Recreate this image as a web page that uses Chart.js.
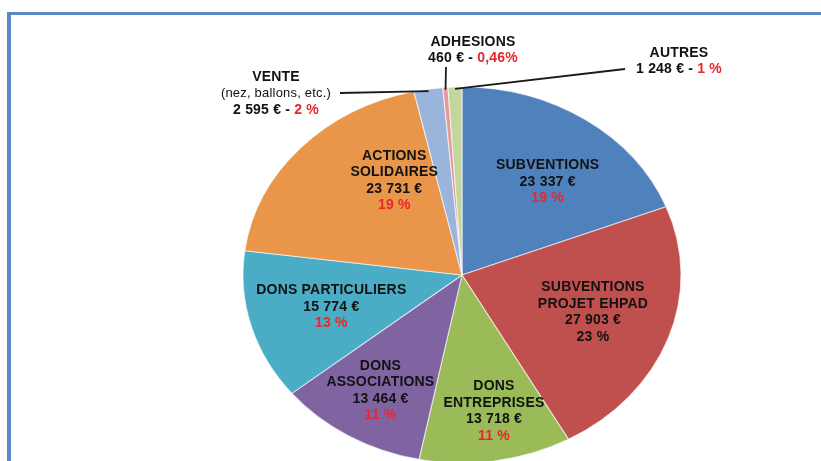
<!DOCTYPE html>
<html>
<head>
<meta charset="utf-8">
<script src="https://cdn.jsdelivr.net/npm/chart.js@4.4.1/dist/chart.umd.min.js"></script>
<style>
    html, body { margin: 0; padding: 0; background: #fff; }
    #wrap { position: relative; width: 821px; height: 461px; overflow: hidden; background: #fff; }
    #frame { position: absolute; left: 7px; top: 12px; right: -10px; bottom: -10px;
             border-top: 3px solid #5b89c3; border-left: 4px solid #5b89c3; }
    #chartRessources { position: absolute; left: 0; top: 0; }
</style>
</head>
<body>
<div id="wrap">
    <div id="frame"></div>
    <canvas id="chartRessources" width="821" height="461"></canvas>
</div>
<script>
'use strict';

// ─────────────────────────────────────────────────────────────────────────────
// DONNÉES — répartition des ressources
// ─────────────────────────────────────────────────────────────────────────────

var categories = [
    ['SUBVENTIONS'],
    ['SUBVENTIONS', 'PROJET EHPAD'],
    ['DONS', 'ENTREPRISES'],
    ['DONS', 'ASSOCIATIONS'],
    ['DONS PARTICULIERS'],
    ['ACTIONS', 'SOLIDAIRES'],
    ['VENTE'],
    ['ADHESIONS'],
    ['AUTRES']
];
var notes = ['', '', '', '', '', '', '(nez, ballons, etc.)', '', ''];
var montants = [23337, 27903, 13718, 13464, 15774, 23731, 2595, 460, 1248];
var pourcentages = ['19 %', '23 %', '11 %', '11 %', '13 %', '19 %', '2 %', '0,46%', '1 %'];

// ─────────────────────────────────────────────────────────────────────────────
// STYLES
// ─────────────────────────────────────────────────────────────────────────────

var COULEURS = ['#4f81bd', '#c0504d', '#9bbb59', '#8064a2', '#4bacc6',
                '#e9964b', '#9ab5dc', '#e39a98', '#c3d69b'];
var ROUGE = '#e8262c';
var NOIR = '#121212';
var couleurPct = [ROUGE, NOIR, ROUGE, ROUGE, ROUGE, ROUGE, ROUGE, ROUGE, ROUGE];

var RAYON = 188;          // rayon vertical
var ETIREMENT = 219 / 188; // la part est étirée en largeur
var INTERLIGNE = 16.5;

// étiquettes internes : distance relative au centre et décalage angulaire (deg)
var posInterne = [
    { r: 0.63, da: 4 },
    { r: 0.63, da: -1.5 },
    { r: 0.74, da: -2.5 },
    { r: 0.72, da: 0 },
    { r: 0.62, da: 0 },
    { r: 0.59, da: 16 }
];
// étiquettes externes : centre du texte, 1re ligne, départ du trait
var posExterne = {
    6: { x: 276, y: 77, trait: [340, 93] },
    7: { x: 473, y: 42, trait: [446, 67] },
    8: { x: 679, y: 53, trait: [625, 69] }
};

function formatEuro(v) {
    return String(v).replace(/\B(?=(\d{3})+(?!\d))/g, ' ') + ' €';
}

function policeGras() { return 'bold 14px "Liberation Sans", Arial, sans-serif'; }
function policeNormale() { return '13px "Liberation Sans", Arial, sans-serif'; }

function ecrireMorceaux(ctx, morceaux, cx, y) {
    var total = 0;
    morceaux.forEach(function(m) {
        ctx.font = m.font;
        total += ctx.measureText(m.text).width;
    });
    var x = cx - total / 2;
    morceaux.forEach(function(m) {
        ctx.font = m.font;
        ctx.fillStyle = m.color;
        ctx.fillText(m.text, x, y);
        x += ctx.measureText(m.text).width;
    });
}

// point sur l'ellipse à l'angle a (radians, repère Chart.js)
function pointEllipse(arc, a, f) {
    return {
        x: arc.x + Math.cos(a) * f * RAYON * ETIREMENT,
        y: arc.y + Math.sin(a) * f * RAYON
    };
}

var ellipsePlugin = {
    id: 'ellipse',
    beforeDatasetsDraw: function(chart) {
        var arc = chart.getDatasetMeta(0).data[0];
        var ctx = chart.ctx;
        ctx.save();
        ctx.translate(arc.x, arc.y);
        ctx.scale(ETIREMENT, 1);
        ctx.translate(-arc.x, -arc.y);
    },
    afterDatasetsDraw: function(chart) {
        chart.ctx.restore();
    }
};

var etiquettesPlugin = {
    id: 'etiquettes',
    afterDraw: function(chart) {
        var ctx = chart.ctx;
        var arcs = chart.getDatasetMeta(0).data;
        ctx.save();
        ctx.textBaseline = 'middle';
        ctx.textAlign = 'left';
        ctx.letterSpacing = '0.2px';

        arcs.forEach(function(arc, i) {
            var mid = (arc.startAngle + arc.endAngle) / 2;
            var pct = { text: pourcentages[i], font: policeGras(), color: couleurPct[i] };
            var lignes = [];

            if (posInterne[i]) {
                var p = posInterne[i];
                var pt = pointEllipse(arc, mid + p.da * Math.PI / 180, p.r);
                categories[i].forEach(function(t) {
                    lignes.push([{ text: t, font: policeGras(), color: NOIR }]);
                });
                lignes.push([{ text: formatEuro(montants[i]), font: policeGras(), color: NOIR }]);
                lignes.push([pct]);
                var y0 = pt.y - (lignes.length - 1) * INTERLIGNE / 2;
                lignes.forEach(function(l, k) {
                    ecrireMorceaux(ctx, l, pt.x, y0 + k * INTERLIGNE);
                });
                return;
            }

            var ext = posExterne[i];
            if (!ext) return;

            // trait de rappel
            var bord = pointEllipse(arc, mid, 0.99);
            ctx.beginPath();
            ctx.moveTo(ext.trait[0], ext.trait[1]);
            ctx.lineTo(bord.x, bord.y);
            ctx.lineWidth = 1.8;
            ctx.strokeStyle = '#1a1a1a';
            ctx.stroke();

            categories[i].forEach(function(t) {
                lignes.push([{ text: t, font: policeGras(), color: NOIR }]);
            });
            if (notes[i]) {
                lignes.push([{ text: notes[i], font: policeNormale(), color: NOIR }]);
            }
            lignes.push([
                { text: formatEuro(montants[i]) + ' - ', font: policeGras(), color: NOIR },
                pct
            ]);
            lignes.forEach(function(l, k) {
                ecrireMorceaux(ctx, l, ext.x, ext.y + k * INTERLIGNE);
            });
        });
        ctx.restore();
    }
};

var chartRessources = new Chart(document.getElementById('chartRessources'), {
    type: 'pie',
    data: {
        labels: categories,
        datasets: [{
            data: montants,
            backgroundColor: COULEURS,
            borderColor: 'rgba(255,255,255,0.6)',
            borderWidth: 1,
            radius: RAYON,
            clip: false
        }]
    },
    options: {
        responsive: false,
        animation: false,
        radius: RAYON,
        layout: { padding: { left: 103, top: 89, right: 0, bottom: 0 } },
        plugins: {
            legend: { display: false },
            tooltip: { enabled: false }
        }
    },
    plugins: [ellipsePlugin, etiquettesPlugin]
});
</script>
</body>
</html>
